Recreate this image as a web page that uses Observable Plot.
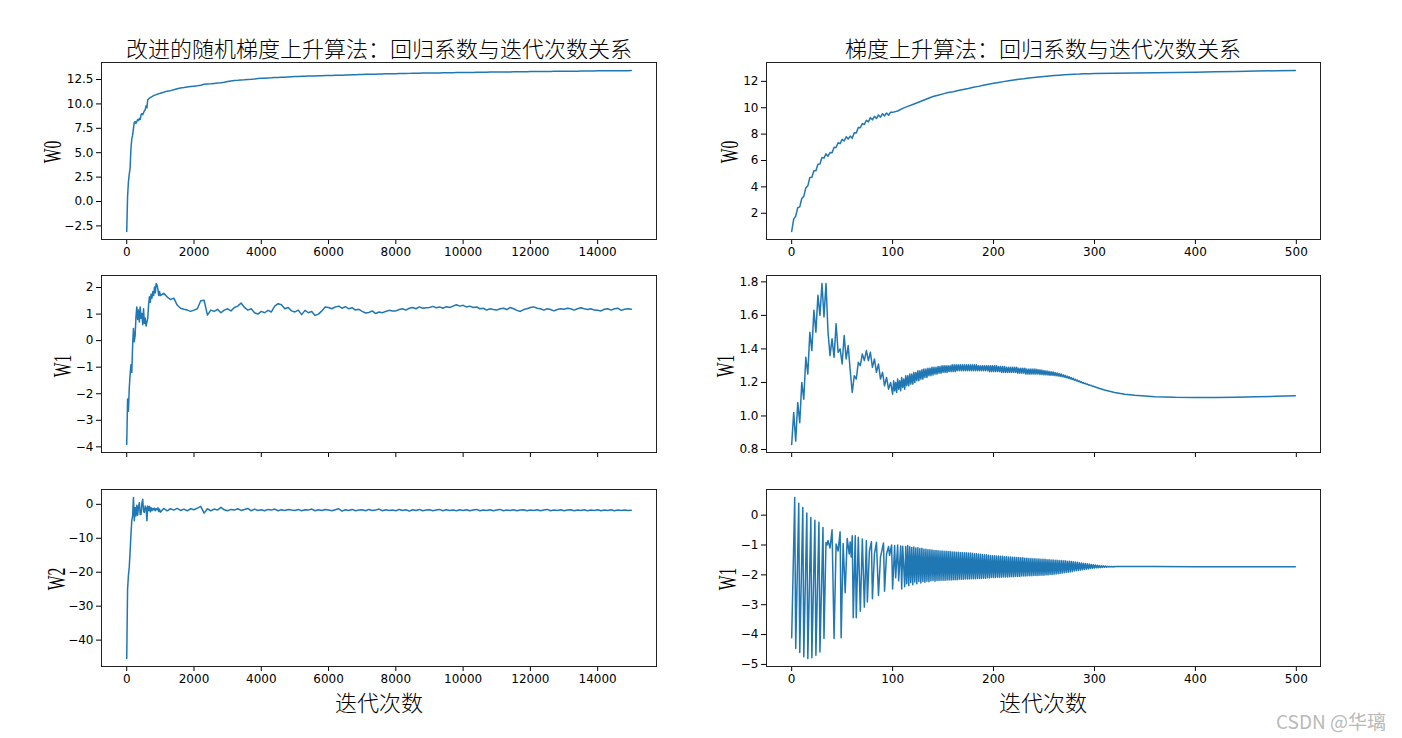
<!DOCTYPE html>
<html>
<head>
<meta charset="utf-8">
<script src="https://cdn.jsdelivr.net/npm/d3@7"></script>
<script src="https://cdn.jsdelivr.net/npm/@observablehq/plot@0.6"></script>
<style>
  html, body { margin: 0; padding: 0; background: #fff; }
  #root { position: relative; width: 1402px; height: 738px; background: #fff; overflow: hidden; }
  .txt { position: absolute; white-space: nowrap; color: #000; line-height: 1; }
  .title { font-family: "Noto Sans CJK SC", sans-serif; font-size: 22px; font-weight: 300; transform: translate(-50%, -50%); }
  .xlab { font-family: "Noto Sans CJK SC", sans-serif; font-size: 22px; font-weight: 300; transform: translate(-50%, -50%); }
  .ylab { font-family: "Liberation Serif", serif; font-size: 26px; transform: translate(-50%, -50%) rotate(-90deg) scaleX(0.6); }
  .wm { font-family: "Noto Sans CJK SC", sans-serif; font-size: 19px; color: #b9b9b9; transform: translate(0, -50%); }
</style>
</head>
<body>
<div id="root"></div>
<script>
// ---------------- data ----------------
const leftTitle = "改进的随机梯度上升算法：回归系数与迭代次数关系";
const rightTitle = "梯度上升算法：回归系数与迭代次数关系";
const xAxisLabel = "迭代次数";
const leftYLabels = ["W0", "W1", "W2"];
const rightYLabels = ["W0", "W1", "W1"];
const watermark = "CSDN @华璃";

// iteration positions (left: stochastic, 15000 iterations; right: batch, 500 iterations)
const leftIters = [...d3.range(0, 1000, 25), ...d3.range(1000, 15000, 100), 14999];
const rightW0Iters = [...d3.range(0, 100, 2), ...d3.range(100, 300, 5), ...d3.range(300, 500, 20), 499];
const rightW1EarlyIters = d3.range(0, 100, 2);
const rightW1LoIters = d3.range(100, 300, 2);
const rightW1HiIters = d3.range(101, 300, 2);
const rightW1TailIters = [300, 305, 310, 315, 320, 330, 340, 360, 380, 400, 420, 440, 460, 480, 499];
const rightW2EarlyIters = [0,3,4,7,8,11,12,15,16,19,20,23,24,27,28,31,32,34,35,36,38,40,42,44,46,48,49,51,53,55,57,58,59,60,61,63,64,66,68,70,72,74,75,77,79,80,82,84,86,88,91,92,94,96,97,99,100,102,103,105,106,108,109,110];
const rightW2LoIters = d3.range(112, 321, 2);
const rightW2HiIters = d3.range(113, 322, 2);
const rightW2TailIters = [330, 360, 400, 450, 499];

// left column values
const leftW0 = [
  -3.07, 0.5, 2.0, 2.8, 3.4, 5.4, 6.4, 6.8, 7.5, 8.1,
  8.2, 8.0, 8.2, 8.4, 8.3, 8.5, 8.4, 8.9, 9.0, 8.9,
  9.1, 9.3, 9.4, 9.8, 9.6, 10.45, 10.5, 10.6, 10.65, 10.7,
  10.75, 10.8, 10.85, 10.9, 10.92, 10.95, 10.98, 11.0, 11.05, 11.08,
  11.10, 11.20, 11.31, 11.36, 11.45, 11.55, 11.63, 11.68, 11.74, 11.78,
  11.82, 11.86, 11.92, 12.02, 12.04, 12.06, 12.10, 12.14, 12.17, 12.22,
  12.30, 12.36, 12.40, 12.42, 12.45, 12.47, 12.50, 12.52, 12.55, 12.60,
  12.62, 12.64, 12.66, 12.67, 12.70, 12.71, 12.73, 12.74, 12.76, 12.78,
  12.80, 12.82, 12.83, 12.84, 12.85, 12.86, 12.87, 12.88, 12.89, 12.90,
  12.91, 12.92, 12.93, 12.94, 12.95, 12.96, 12.97, 12.99, 13.00, 13.01,
  13.02, 13.03, 13.04, 13.05, 13.05, 13.06, 13.07, 13.08, 13.09, 13.10,
  13.10, 13.11, 13.12, 13.12, 13.13, 13.14, 13.14, 13.15, 13.16, 13.16,
  13.17, 13.17, 13.18, 13.18, 13.19, 13.19, 13.20, 13.20, 13.21, 13.21,
  13.22, 13.22, 13.23, 13.23, 13.24, 13.24, 13.25, 13.25, 13.26, 13.26,
  13.27, 13.27, 13.28, 13.28, 13.28, 13.29, 13.29, 13.30, 13.30, 13.30,
  13.31, 13.31, 13.32, 13.32, 13.32, 13.33, 13.33, 13.34, 13.34, 13.34,
  13.35, 13.35, 13.36, 13.36, 13.36, 13.37, 13.37, 13.38, 13.38, 13.38,
  13.39, 13.39, 13.39, 13.40, 13.40, 13.40, 13.41, 13.41, 13.41, 13.41,
  13.42
];
const leftW1 = [
  -3.91, -2.2, -2.66, -1.79, -1.29, -0.91, -1.2, -0.2, 0.46, -0.04,
  0.2, 0.9, 1.27, 0.8, 1.15, 0.7, 1.27, 0.84, 1.02, 0.6,
  1.2, 0.65, 0.85, 0.55, 0.7, 0.84, 1.35, 1.65, 1.45, 1.75,
  1.6, 1.85, 1.7, 2.02, 1.8, 2.15, 2.1, 1.95, 1.7, 1.85,
  1.7, 1.78, 1.65, 1.55, 1.6, 1.34, 1.22, 1.18, 1.15, 1.1,
  1.15, 1.2, 1.5, 1.52, 0.96, 1.15, 1.1, 1.18, 1.05, 1.15,
  1.2, 1.12, 1.25, 1.3, 1.42, 1.25, 1.15, 1.2, 1.05, 1.0,
  1.1, 1.05, 1.14, 1.08, 1.3, 1.39, 1.35, 1.2, 1.25, 1.12,
  1.08, 1.15, 0.98, 1.14, 1.05, 1.1, 0.95, 1.0, 1.12, 1.27,
  1.25, 1.2, 1.27, 1.3, 1.22, 1.28, 1.2, 1.24, 1.15, 1.18,
  1.1, 1.04, 1.06, 1.12, 1.02, 1.08, 1.05, 1.1, 1.14, 1.12,
  1.12, 1.17, 1.2, 1.15, 1.22, 1.25, 1.2, 1.27, 1.22, 1.24,
  1.25, 1.29, 1.24, 1.27, 1.22, 1.28, 1.25, 1.3, 1.35, 1.3,
  1.33, 1.27, 1.3, 1.25, 1.27, 1.2, 1.22, 1.15, 1.2, 1.17,
  1.15, 1.2, 1.22, 1.17, 1.25, 1.2, 1.14, 1.1, 1.17, 1.2,
  1.25, 1.27, 1.22, 1.2, 1.15, 1.2, 1.17, 1.12, 1.17, 1.2,
  1.18, 1.22, 1.2, 1.15, 1.2, 1.24, 1.2, 1.17, 1.2, 1.15,
  1.14, 1.12, 1.18, 1.2, 1.15, 1.2, 1.22, 1.14, 1.18, 1.2,
  1.18
];
const leftW2 = [
  -45.4, -25, -21, -18.5, -14, -9, -4.8, -3.4, 2.0, -4.8,
  -0.9, -3.4, -0.3, -3.2, -0.6, 0.5, -3.0, -2.9, 0.2, 1.5,
  -2.0, -2.4, -0.5, -1.0, -4.8, -0.5, -1.8, -0.6, -2.2, -1.0,
  -1.9, -1.2, -1.6, -1.1, -1.9, -1.3, -1.6, -1.0, -2.1, -1.4,
  -2.3, -1.2, -1.9, -1.3, -1.7, -1.2, -1.8, -1.4, -1.9, -1.3,
  -1.6, -1.1, -0.6, -2.6, -1.3, -1.9, -1.4, -1.7, -0.9, -1.6,
  -1.9, -1.5, -1.7, -1.3, -1.8, -1.5, -1.2, -1.9, -1.4, -1.8,
  -1.6, -1.9, -1.5, -1.7, -1.4, -1.9, -1.6, -1.8, -1.5, -1.7,
  -1.8, -1.5, -1.9, -1.6, -1.7, -1.4, -1.9, -1.6, -1.8, -1.5,
  -1.7, -1.9, -1.6, -1.3, -2.0, -1.6, -1.8, -1.5, -1.9, -1.7,
  -1.6, -1.9, -1.5, -1.8, -1.7, -1.4, -1.9, -1.6, -1.8, -1.7,
  -1.9, -1.5, -1.8, -1.6, -2.0, -1.6, -1.8, -1.5, -1.9, -1.7,
  -1.6, -1.9, -1.7, -1.5, -1.9, -1.6, -1.8, -1.7, -1.9, -1.6,
  -1.8, -1.6, -1.9, -1.7, -1.5, -1.9, -1.7, -1.8, -1.6, -1.9,
  -1.7, -1.5, -1.9, -1.7, -1.8, -1.6, -1.9, -1.7, -1.6, -1.9,
  -1.7, -1.8, -1.6, -1.9, -1.7, -1.5, -1.9, -1.7, -1.8, -1.6,
  -1.9, -1.7, -1.6, -1.9, -1.7, -1.8, -1.6, -1.9, -1.7, -1.8,
  -1.6, -1.9, -1.7, -1.8, -1.6, -1.9, -1.7, -1.8, -1.7, -1.8,
  -1.75
];

// right column values
const rightW0 = [
  0.62, 1.55, 1.78, 2.42, 2.48, 3.12, 3.28, 3.92, 4.08, 4.72,
  4.73, 5.22, 5.23, 5.72, 5.73, 6.22, 6.18, 6.5, 6.33, 6.6,
  6.58, 7.0, 6.98, 7.35, 7.28, 7.6, 7.48, 7.8, 7.63, 7.85,
  7.68, 8.1, 8.08, 8.5, 8.48, 8.8, 8.73, 9.05, 8.93, 9.25,
  9.08, 9.35, 9.18, 9.45, 9.28, 9.55, 9.38, 9.6, 9.43, 9.66,
  9.65, 9.75, 9.95, 10.1, 10.25, 10.4, 10.55, 10.7, 10.85, 10.95,
  11.05, 11.15, 11.22, 11.3, 11.38, 11.46, 11.55, 11.62, 11.7, 11.78,
  11.85, 11.92, 11.98, 12.04, 12.1, 12.16, 12.2, 12.25, 12.29, 12.33,
  12.37, 12.41, 12.44, 12.47, 12.5, 12.52, 12.54, 12.55, 12.57, 12.58,
  12.59, 12.61, 12.63, 12.65, 12.68, 12.70, 12.73, 12.75, 12.78, 12.80,
  12.82
];
const rightW1Early = [
  0.83, 1.02, 0.85, 1.08, 0.96, 1.20, 1.10, 1.35, 1.25, 1.50,
  1.39, 1.63, 1.50, 1.72, 1.60, 1.79, 1.59, 1.79, 1.50, 1.36,
  1.46, 1.35, 1.55, 1.38, 1.40, 1.31, 1.48, 1.34, 1.42, 1.27,
  1.14, 1.24, 1.22, 1.32, 1.30, 1.37, 1.33, 1.39, 1.33, 1.38,
  1.29, 1.34, 1.26, 1.31, 1.22, 1.26, 1.18, 1.23, 1.16, 1.20
];
const rightW1Lo = [
  1.13, 1.15, 1.14, 1.16, 1.15, 1.17, 1.16, 1.18, 1.18, 1.19,
  1.19, 1.20, 1.21, 1.21, 1.22, 1.22, 1.23, 1.23, 1.24, 1.24,
  1.245, 1.25, 1.25, 1.255, 1.255, 1.26, 1.26, 1.26, 1.265, 1.265,
  1.265, 1.265, 1.27, 1.27, 1.27, 1.27, 1.27, 1.27, 1.27, 1.27,
  1.27, 1.27, 1.27, 1.27, 1.27, 1.27, 1.27, 1.27, 1.265, 1.265,
  1.265, 1.265, 1.265, 1.265, 1.26, 1.26, 1.26, 1.26, 1.26, 1.26,
  1.26, 1.26, 1.255, 1.255, 1.255, 1.255, 1.25, 1.25, 1.25, 1.25,
  1.25, 1.25, 1.25, 1.248, 1.247, 1.246, 1.245, 1.244, 1.243, 1.242,
  1.241, 1.240, 1.238, 1.236, 1.234, 1.231, 1.228, 1.225, 1.221, 1.217,
  1.213, 1.209, 1.205, 1.201, 1.197, 1.193, 1.189, 1.185, 1.181, 1.177
];
const rightW1Hi = [
  1.21, 1.20, 1.22, 1.21, 1.23, 1.22, 1.24, 1.24, 1.25, 1.25,
  1.26, 1.26, 1.27, 1.27, 1.275, 1.28, 1.28, 1.285, 1.285, 1.29,
  1.29, 1.29, 1.295, 1.295, 1.30, 1.30, 1.30, 1.30, 1.30, 1.305,
  1.305, 1.305, 1.305, 1.305, 1.305, 1.305, 1.305, 1.305, 1.305, 1.305,
  1.305, 1.305, 1.30, 1.30, 1.30, 1.30, 1.30, 1.30, 1.30, 1.30,
  1.30, 1.30, 1.295, 1.295, 1.295, 1.295, 1.29, 1.29, 1.29, 1.29,
  1.29, 1.29, 1.285, 1.285, 1.285, 1.285, 1.28, 1.28, 1.28, 1.28,
  1.28, 1.278, 1.276, 1.274, 1.272, 1.270, 1.268, 1.266, 1.264, 1.262,
  1.259, 1.256, 1.253, 1.250, 1.246, 1.242, 1.238, 1.234, 1.229, 1.224,
  1.219, 1.214, 1.209, 1.204, 1.199, 1.195, 1.19, 1.186, 1.182, 1.178
];
const rightW1Tail = [1.174, 1.164, 1.155, 1.147, 1.140, 1.130, 1.123, 1.115, 1.111, 1.110, 1.110, 1.112, 1.114, 1.117, 1.12];

const rightW2Early = [
  -4.11, 0.59, -4.47, 0.40, -4.60, 0.26, -4.74, 0.07, -4.80, -0.08,
  -4.78, -0.17, -4.69, -0.24, -4.58, -0.41, -4.13, -0.92, -1.0, -0.85,
  -1.1, -0.49, -4.13, -0.97, -1.2, -0.56, -4.11, -0.95, -2.6, -0.78,
  -1.3, -0.9, -1.4, -0.69, -3.44, -0.69, -3.44, -0.74, -3.22, -0.8,
  -3.08, -0.86, -2.91, -1.2, -0.89, -2.8, -1.3, -0.91, -2.69, -1.4,
  -0.93, -2.55, -1.3, -1.05, -1.35, -1.0, -2.47, -1.02, -2.1, -1.0,
  -2.2, -1.03, -2.47, -1.04
];
const rightW2Lo = [
  -2.40, -2.30, -2.36, -2.26, -2.33, -2.24, -2.30, -2.22, -2.27, -2.22,
  -2.25, -2.21, -2.23, -2.20, -2.19, -2.21, -2.19, -2.19, -2.18, -2.18,
  -2.18, -2.17, -2.17, -2.17, -2.16, -2.16, -2.16, -2.15, -2.15, -2.15,
  -2.14, -2.14, -2.14, -2.13, -2.13, -2.13, -2.12, -2.12, -2.12, -2.11,
  -2.11, -2.10, -2.10, -2.09, -2.09, -2.09, -2.08, -2.08, -2.08, -2.07,
  -2.07, -2.07, -2.06, -2.06, -2.06, -2.05, -2.05, -2.05, -2.04, -2.04,
  -2.04, -2.03, -2.03, -2.03, -2.02, -2.02, -2.02, -2.01, -2.01, -2.01,
  -2.00, -2.00, -1.99, -1.99, -1.98, -1.97, -1.96, -1.95, -1.94, -1.93,
  -1.92, -1.91, -1.90, -1.89, -1.87, -1.86, -1.85, -1.84, -1.83, -1.82,
  -1.81, -1.80, -1.79, -1.78, -1.77, -1.765, -1.76, -1.755, -1.75, -1.745,
  -1.74, -1.738, -1.735, -1.733, -1.73
];
const rightW2Hi = [
  -1.05, -1.02, -1.06, -1.08, -1.07, -1.10, -1.09, -1.12, -1.11, -1.14,
  -1.14, -1.16, -1.16, -1.17, -1.18, -1.18, -1.19, -1.20, -1.20, -1.21,
  -1.21, -1.22, -1.22, -1.23, -1.23, -1.24, -1.24, -1.25, -1.25, -1.26,
  -1.26, -1.27, -1.27, -1.28, -1.29, -1.29, -1.30, -1.31, -1.32, -1.33,
  -1.33, -1.34, -1.35, -1.36, -1.36, -1.37, -1.37, -1.38, -1.38, -1.39,
  -1.39, -1.40, -1.40, -1.41, -1.41, -1.42, -1.42, -1.43, -1.43, -1.44,
  -1.44, -1.45, -1.45, -1.46, -1.46, -1.47, -1.47, -1.48, -1.48, -1.48,
  -1.49, -1.49, -1.50, -1.50, -1.51, -1.51, -1.52, -1.52, -1.53, -1.53,
  -1.54, -1.54, -1.55, -1.56, -1.57, -1.58, -1.59, -1.60, -1.61, -1.62,
  -1.63, -1.64, -1.65, -1.66, -1.67, -1.68, -1.69, -1.695, -1.70, -1.705,
  -1.71, -1.715, -1.718, -1.72, -1.722
];
const rightW2Tail = [-1.722, -1.722, -1.725, -1.728, -1.73];

const leftXTicks = d3.range(0, 15000, 2000);
const rightXTicks = d3.range(0, 600, 100);
const leftYTicks = [[-2.5, 0, 2.5, 5, 7.5, 10, 12.5], [-4, -3, -2, -1, 0, 1, 2], [-40, -30, -20, -10, 0]];
const rightYTicks = [[2, 4, 6, 8, 10, 12], [0.8, 1.0, 1.2, 1.4, 1.6, 1.8], [-5, -4, -3, -2, -1, 0]];
const leftYFormats = [".1f", "d", "d"];
const rightYFormats = ["d", ".1f", "d"];

// ---------------- layout ----------------
const root = document.getElementById("root");
const colLeft = [101, 766];
const colWidth = [555, 554];
const rowTop = [62, 275, 489];
const rowHeight = 177;
const M = {l: 60, r: 10, t: 5, b: 25};

function zip(xs, ys) {
  const n = Math.min(xs.length, ys.length);
  return d3.range(n).map(i => ({x: xs[i], y: ys[i]}));
}
function merged(...parts) {
  return parts.flat().sort((a, b) => a.x - b.x);
}
function padded(vals) {
  const [a, b] = d3.extent(vals);
  const p = (b - a) * 0.05;
  return [a - p, b + p];
}

function panel(col, row, data, xDomain, xTicks, yTicks, yFmt, showXLabels) {
  const fw = colWidth[col], fh = rowHeight;
  const svg = Plot.plot({
    width: fw + M.l + M.r,
    height: fh + M.t + M.b,
    marginLeft: M.l, marginRight: M.r, marginTop: M.t, marginBottom: M.b,
    style: {fontFamily: "DejaVu Sans, sans-serif", fontSize: "12px", color: "#000", background: "transparent", overflow: "visible"},
    x: {domain: xDomain, ticks: xTicks, tickSize: 5, tickPadding: 3, label: null,
        tickFormat: showXLabels ? d3.format("d") : () => ""},
    y: {domain: padded(data.map(d => d.y)), ticks: yTicks, tickSize: 5, tickPadding: 3, label: null,
        tickFormat: d3.format(yFmt)},
    marks: [
      Plot.line(data, {x: "x", y: "y", stroke: "#1f77b4", strokeWidth: 1.5}),
      Plot.frame({stroke: "#222", strokeWidth: 1})
    ]
  });
  svg.style.position = "absolute";
  svg.style.left = (colLeft[col] - M.l) + "px";
  svg.style.top = (rowTop[row] - M.t) + "px";
  root.appendChild(svg);
}

const leftX = [-750, 15749];
const rightX = [-24.95, 523.95];

const leftSeries = [zip(leftIters, leftW0), zip(leftIters, leftW1), zip(leftIters, leftW2)];
const rightSeries = [
  zip(rightW0Iters, rightW0),
  merged(zip(rightW1EarlyIters, rightW1Early), zip(rightW1LoIters, rightW1Lo), zip(rightW1HiIters, rightW1Hi), zip(rightW1TailIters, rightW1Tail)),
  merged(zip(rightW2EarlyIters, rightW2Early), zip(rightW2LoIters, rightW2Lo), zip(rightW2HiIters, rightW2Hi), zip(rightW2TailIters, rightW2Tail))
];

for (let r = 0; r < 3; r++) {
  const showLabels = r !== 1;
  panel(0, r, leftSeries[r], leftX, leftXTicks, leftYTicks[r], leftYFormats[r], showLabels);
  panel(1, r, rightSeries[r], rightX, rightXTicks, rightYTicks[r], rightYFormats[r], showLabels);
}

function addText(cls, text, x, y) {
  const d = document.createElement("div");
  d.className = "txt " + cls;
  d.textContent = text;
  d.style.left = x + "px";
  d.style.top = y + "px";
  root.appendChild(d);
}

addText("title", leftTitle, 379, 47);
addText("title", rightTitle, 1043, 47);
const leftYLabX = [53, 63, 57];
const rightYLabX = [730, 726, 728];
const yLabY = [152, 366, 579];
for (let r = 0; r < 3; r++) {
  addText("ylab", leftYLabels[r], leftYLabX[r], yLabY[r]);
  addText("ylab", rightYLabels[r], rightYLabX[r], yLabY[r]);
}
addText("xlab", xAxisLabel, 379, 701);
addText("xlab", xAxisLabel, 1043, 701);
addText("wm", watermark, 1276, 720);
</script>
</body>
</html>
